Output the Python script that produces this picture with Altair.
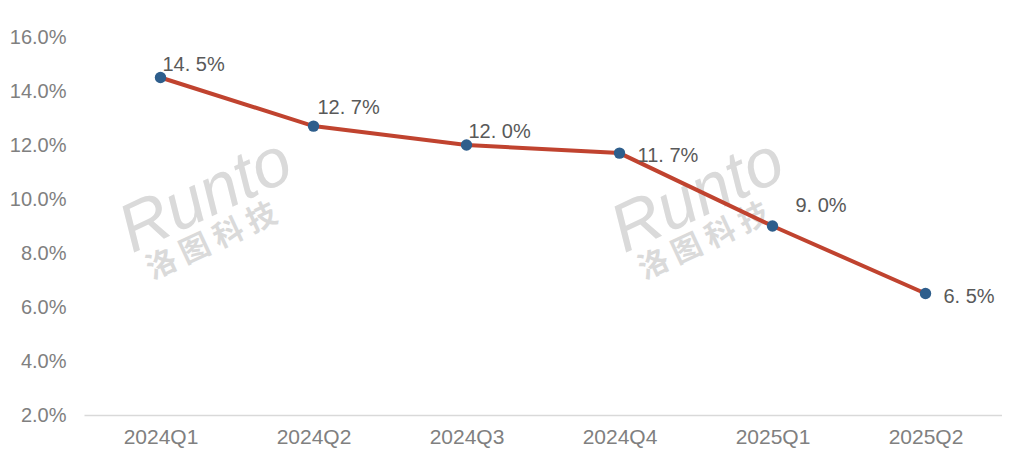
import altair as alt
import pandas as pd

quarters = ["2024Q1", "2024Q2", "2024Q3", "2024Q4", "2025Q1", "2025Q2"]
values = [14.5, 12.7, 12.0, 11.7, 9.0, 6.5]
y_ticks = [2, 4, 6, 8, 10, 12, 14, 16]

df = pd.DataFrame({"q": quarters, "v": values})

FONT = "Liberation Sans"

x = alt.X("q:N", sort=quarters, title=None,
          scale=alt.Scale(type="point", padding=0.5),
          axis=alt.Axis(labelAngle=0, labelFontSize=21, labelColor="#808080",
                        labelFont=FONT, labelPadding=11, ticks=False,
                        domainColor="#d9d9d9", domainWidth=1.5, grid=False))
y = alt.Y("v:Q", title=None,
          scale=alt.Scale(domain=[2, 16], nice=False, zero=False),
          axis=alt.Axis(values=y_ticks, labelExpr="format(datum.value, '.1f') + '%'",
                        labelFontSize=20, labelColor="#808080", labelFont=FONT,
                        labelPadding=18, ticks=False, domain=False, grid=False))

base = alt.Chart(df).encode(x=x, y=y)

# watermark
wm = []
for cx in [0, 492]:
    wm.append(alt.Chart(df).mark_text(text="Runto", font=FONT, fontSize=68, fontStyle="italic",
                                      color="#dadada", angle=335, align="center", baseline="middle")
              .encode(x=alt.value(122 + cx), y=alt.value(160)))
    wm.append(alt.Chart(df).mark_text(text="洛 图 科 技", font="Noto Sans CJK SC", fontSize=30,
                                      fontWeight="bold", color="#dadada", angle=335,
                                      align="center", baseline="middle")
              .encode(x=alt.value(128 + cx), y=alt.value(205)))
wm = [w.transform_filter(alt.datum.q == "2024Q1") for w in wm]

line = base.mark_line(color="#C0432F", strokeWidth=4)
pts = base.mark_point(filled=True, size=130, color="#2E5E8C", opacity=1)

label_text = "replace(format(datum.v, '.1f'), '.', '. ') + '%'"

def labels(qs, dx, dy):
    return (base.transform_filter(alt.FieldOneOfPredicate(field="q", oneOf=qs))
            .transform_calculate(lab=label_text)
            .mark_text(align="left", baseline="alphabetic", dx=dx, dy=dy,
                       fontSize=20, font=FONT, color="#595959")
            .encode(text="lab:N"))

lab_layers = [
    labels(["2024Q1"], 2, -7),
    labels(["2024Q2"], 4, -12),
    labels(["2024Q3"], 2, -7),
    labels(["2024Q4"], 18, 9),
    labels(["2025Q1"], 23, -14),
    labels(["2025Q2"], 18, 9),
]

chart = alt.layer(*wm, line, pts, *lab_layers).properties(
    width=918, height=378,
    background="white",
    autosize=alt.AutoSizeParams(type="none"),
    padding={"left": 76, "top": 29, "right": 0, "bottom": 40},
).configure_view(stroke=None, strokeWidth=0)

chart.save("out.html", embed_options={"renderer": "svg", "actions": False})
